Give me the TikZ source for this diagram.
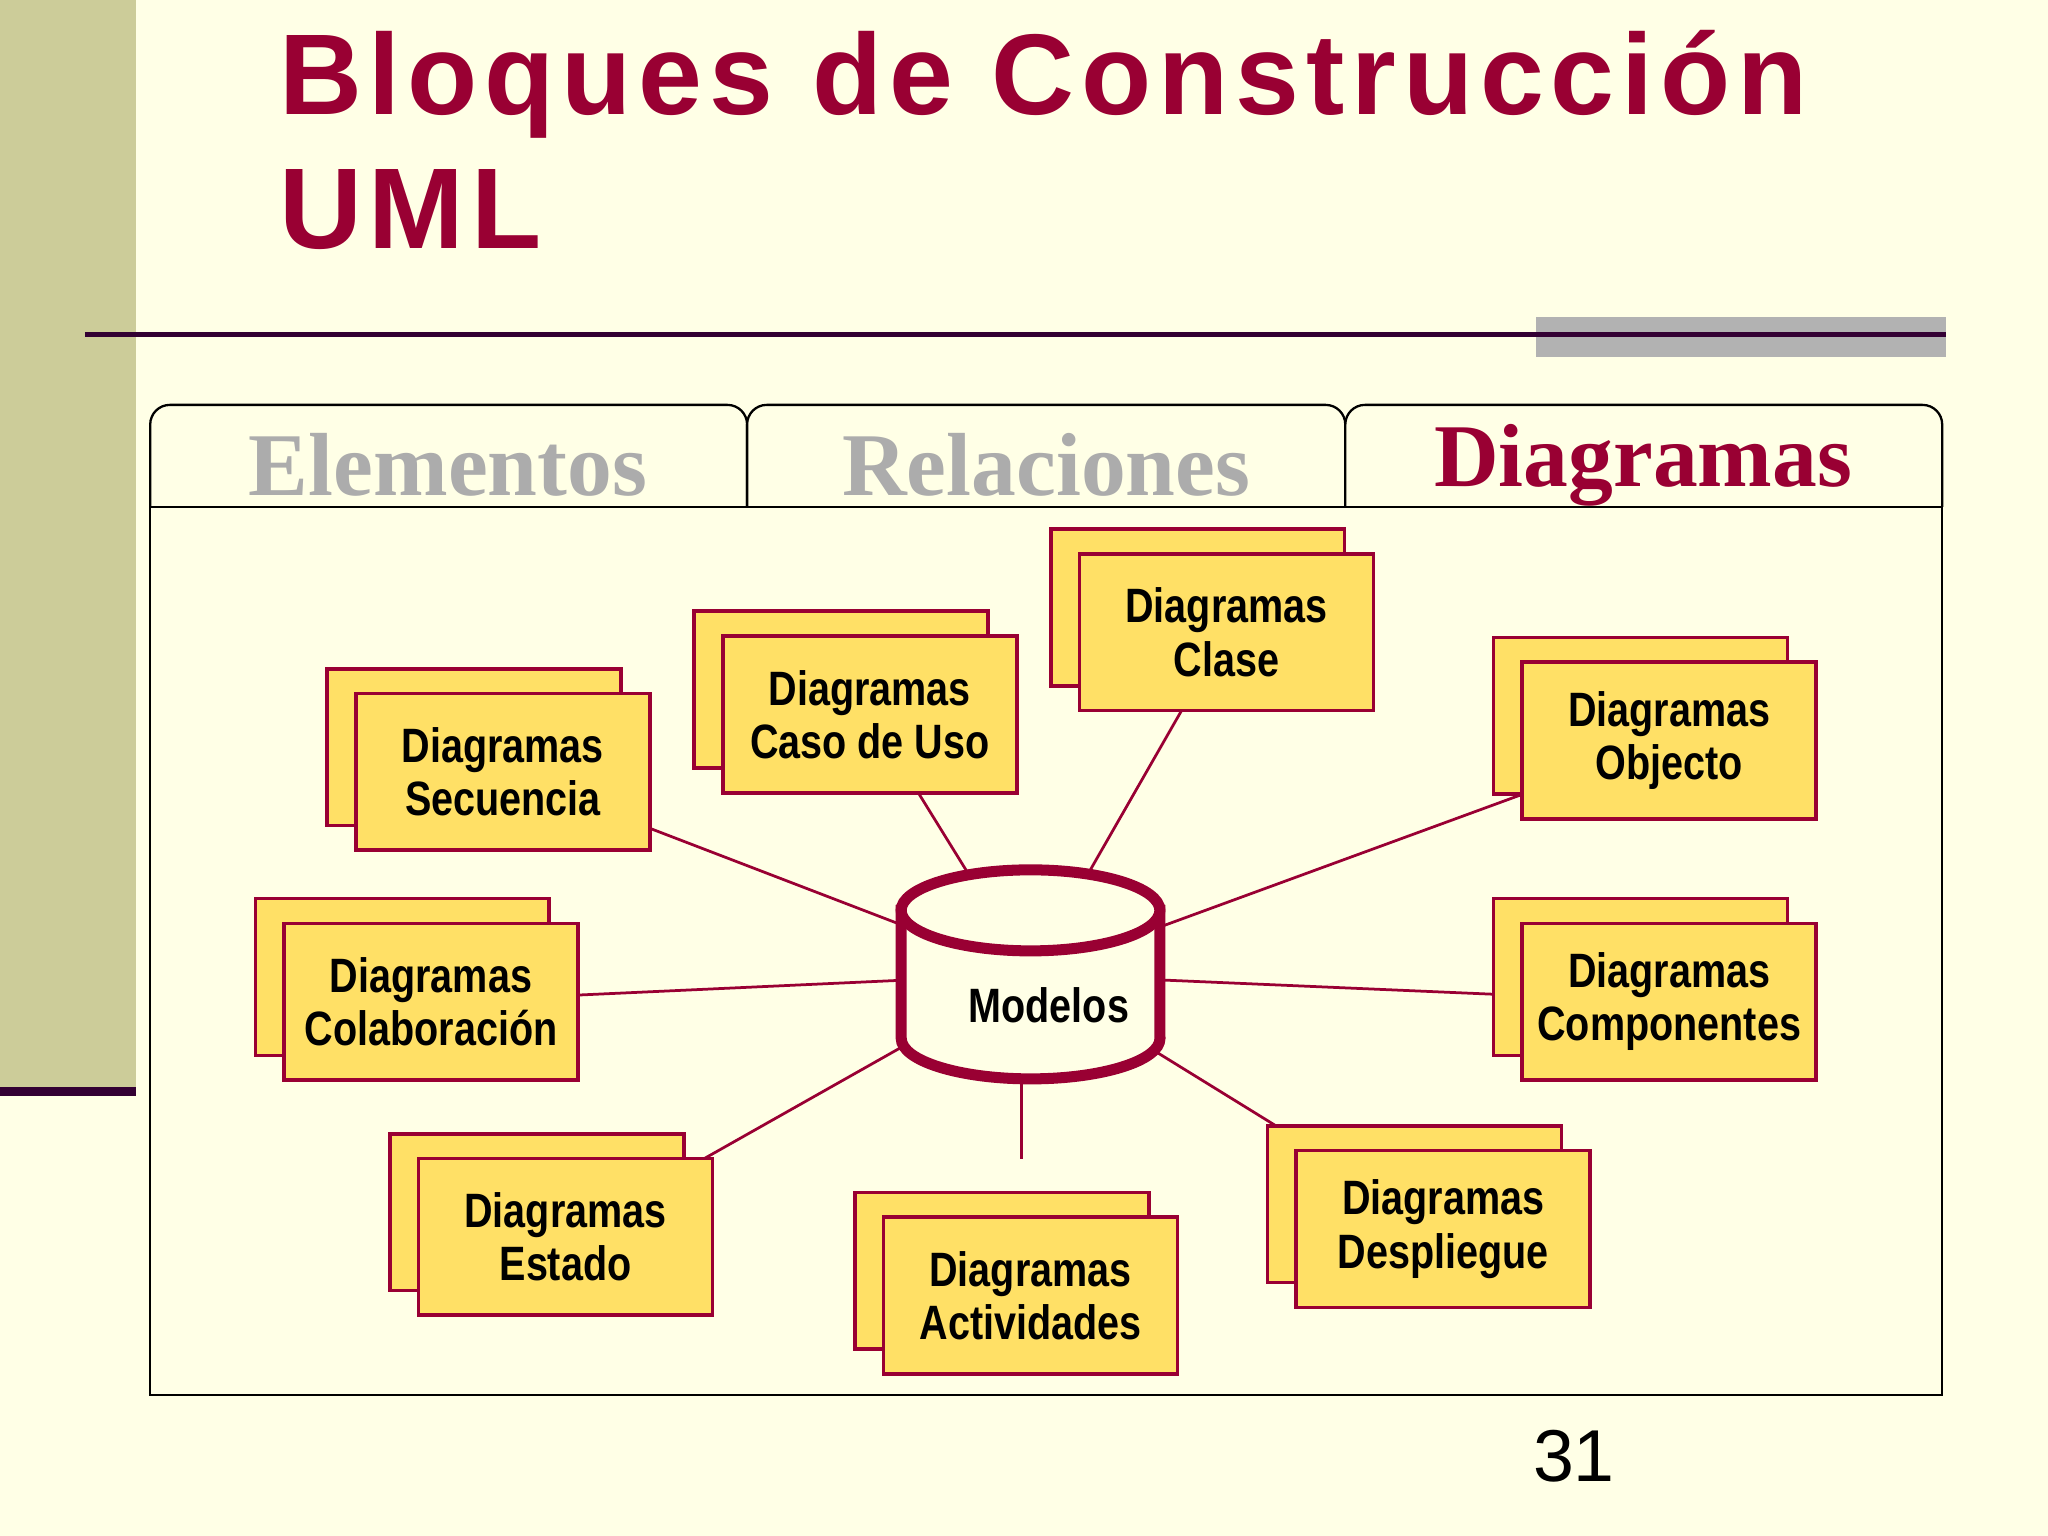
\documentclass[tikz,border=0pt]{standalone}
\usepackage{fontspec}
\setmainfont{Liberation Serif}
\setsansfont{Liberation Sans}
\newfontfamily\narrow{Liberation Sans}[FakeStretch=0.82]
\newfontfamily\titlef{Liberation Sans}[LetterSpace=6]
\usetikzlibrary{shapes.geometric}
\definecolor{cream}{HTML}{FFFFE6}
\definecolor{olive}{HTML}{CCCC99}
\definecolor{wine}{HTML}{990033}
\definecolor{dk}{HTML}{330033}
\definecolor{yel}{HTML}{FFE066}
\begin{document}
\begin{tikzpicture}[x=0.01cm,y=-0.01cm,
  doc/.style={draw=wine,fill=yel,line width=0.8pt,minimum width=2.25cm,minimum height=1.2cm,
     align=center,font=\narrow\bfseries\fontsize{10.5}{11.6}\selectfont,inner sep=0pt},
  back/.style={draw=wine,fill=yel,line width=0.8pt},
  con/.style={draw=wine,line width=0.6pt},
  tab/.style={draw=black,line width=0.5pt,rounded corners=0.15cm,fill=cream},
  tabtext/.style={font=\bfseries\fontsize{19.5}{22}\selectfont}]
\useasboundingbox (0,0) rectangle (1568,1176);
\fill[cream] (0,0) rectangle (1568,1176);
\fill[olive] (0,0) rectangle (104,835);
\fill[dk] (0,832) rectangle (104,839);
\node[anchor=base west,text=wine,font=\titlef\bfseries\fontsize{25}{30}\selectfont,inner sep=0] (t1) at (213,88) {Bloques de Construcción};
\node[anchor=base west,text=wine,font=\titlef\bfseries\fontsize{25}{30}\selectfont,inner sep=0] (t2) at (213,190) {UML};
\fill[gray!60] (1176,243) rectangle (1490,273);
\draw[dk,line width=1.2pt] (65,256) -- (1490,256);
% tabs
\draw[tab] (115,388) -- (115,310) -- (572,310) -- (572,388);
\draw[tab] (572,388) -- (572,310) -- (1030,310) -- (1030,388);
\draw[tab] (1030,388) -- (1030,310) -- (1487,310) -- (1487,388);
\node[text=gray!65,tabtext] (te) at (343,356) {Elementos};
\node[text=gray!65,tabtext] (tr) at (801,356) {Relaciones};
\node[text=wine,tabtext] (td) at (1258,356) {Diagramas};
\draw[black,line width=0.5pt] (115,388) rectangle (1487,1068);
% model node (border for connectors)
\node[ellipse,minimum width=2.02cm,minimum height=1.7cm,inner sep=0pt] (mod) at (789,746) {};
\coordinate (actend) at (782,887);
\draw[con] (385,591) -- (mod);
\draw[con] (666,547) -- (mod);
\draw[con] (939,484) -- (mod);
\draw[con] (1278,567) -- (mod);
\draw[con] (330,767) -- (mod);
\draw[con] (1278,767) -- (mod);
\draw[con] (433,947) -- (mod);
\draw[con] (1105,941) -- (mod);
\draw[con] (782,826) -- (actend);
% cylinder
\draw[wine,line width=2.4pt,fill=cream] (690,697) -- (690,795) arc[start angle=180,end angle=360,x radius=0.99cm,y radius=0.31cm] -- (888,697) -- cycle;
\draw[wine,line width=2.4pt,fill=cream] (789,697) ellipse [x radius=0.99cm,y radius=0.31cm];
\node[font=\narrow\bfseries\fontsize{10.5}{12}\selectfont] (ml) at (803,770) {Modelos};
\newcommand\dbox[4]{%
  \draw[back] (#2-22-112.5,#3-19-60) rectangle (#2-22+112.5,#3-19+60);
  \node[doc] (#1) at (#2,#3) {#4};}
\dbox{sec}{385}{591}{Diagramas\\Secuencia}
\dbox{cas}{666}{547}{Diagramas\\Caso de Uso}
\dbox{cla}{939}{484}{Diagramas\\Clase}
\dbox{obj}{1278}{567}{Diagramas\\Objecto}
\dbox{col}{330}{767}{Diagramas\\Colaboración}
\dbox{com}{1278}{767}{Diagramas\\Componentes}
\dbox{est}{433}{947}{Diagramas\\Estado}
\dbox{act}{789}{992}{Diagramas\\Actividades}
\dbox{des}{1105}{941}{Diagramas\\Despliegue}
\node[font=\sffamily\fontsize{16}{18}\selectfont] (pg) at (1205,1115) {31};
\end{tikzpicture}
\end{document}
